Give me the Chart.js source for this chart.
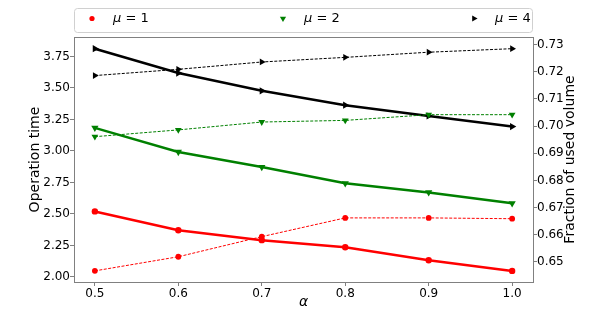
<!DOCTYPE html>
<html>
<head>
<meta charset="utf-8">
<script src="https://cdn.jsdelivr.net/npm/chart.js@4"></script>
<style>
  html, body { margin: 0; padding: 0; background: #fff; }
  #wrap { width: 593px; height: 317px; }
</style>
</head>
<body>
<div id="wrap"><canvas id="chart" width="593" height="317"></canvas></div>
<script>
const alpha = [0.5, 0.6, 0.7, 0.8, 0.9, 1.0]

// operation time (left axis, solid)
const timeMu1 = [2.520, 2.371, 2.292, 2.236, 2.133, 2.048]
const timeMu2 = [3.183, 2.992, 2.872, 2.743, 2.671, 2.584]
const timeMu4 = [3.811, 3.618, 3.477, 3.363, 3.278, 3.193]

// fraction of used volume (right axis, dashed)
const volMu1 = [0.6467, 0.6519, 0.6593, 0.6662, 0.6662, 0.6659]
const volMu2 = [0.6961, 0.6986, 0.7015, 0.7021, 0.7042, 0.7042]
const volMu4 = [0.7186, 0.7209, 0.7236, 0.7253, 0.7272, 0.7285]

const xTicks = [0.5, 0.6, 0.7, 0.8, 0.9, 1.0]
const leftTicks = [2.00, 2.25, 2.50, 2.75, 3.00, 3.25, 3.50, 3.75]
const rightTicks = [0.65, 0.66, 0.67, 0.68, 0.69, 0.70, 0.71, 0.72, 0.73]

const legendNames = ['1', '2', '4']
const legendColors = ['#ff0000', '#008000', '#000000']
const legendStyles = ['circle', 'triangle', 'triangle']
const legendRot = [0, 180, 90]
const markerSize = [3.2, 4.2, 4.2]

const FONT = "'DejaVu Sans', sans-serif"
const FRAME = '#808080'

function pts(ys) {
    return alpha.map((x, i) => ({x: x, y: ys[i]}))
}

function solid(ys, i) {
    return {
        data: pts(ys), yAxisID: 'y', order: 2,
        borderColor: legendColors[i], backgroundColor: legendColors[i],
        borderWidth: 2.5, pointStyle: legendStyles[i], rotation: legendRot[i],
        pointRadius: markerSize[i], pointBorderWidth: 0
    }
}

function dashed(ys, i) {
    return {
        data: pts(ys), yAxisID: 'y1', order: 1,
        borderColor: legendColors[i], backgroundColor: legendColors[i],
        borderWidth: 1, borderDash: [3, 1.5], pointStyle: legendStyles[i], rotation: legendRot[i],
        pointRadius: markerSize[i] - 0.3, pointBorderWidth: 0
    }
}

const framePlugin = {
    id: 'frame',
    afterDraw(chart) {
        const ctx = chart.ctx
        const a = chart.chartArea
        ctx.save()
        ctx.strokeStyle = FRAME
        ctx.lineWidth = 1
        ctx.beginPath()
        ctx.moveTo(a.left, a.top + 0.5)
        ctx.lineTo(a.right, a.top + 0.5)
        ctx.stroke()

        // right axis title, reads bottom to top like the left one
        ctx.save()
        ctx.translate(570, (a.top + a.bottom) / 2)
        ctx.rotate(-Math.PI / 2)
        ctx.fillStyle = '#000'
        ctx.font = '14px ' + FONT
        ctx.textAlign = 'center'
        ctx.textBaseline = 'middle'
        ctx.fillText('Fraction of used volume', 0, 0)
        ctx.restore()

        // legend box
        const bx = a.left, by = 8, bw = a.right - a.left, bh = 24
        ctx.strokeStyle = '#d0d0d0'
        ctx.fillStyle = 'rgba(255,255,255,0.8)'
        ctx.beginPath()
        ctx.roundRect(bx + 0.5, by + 0.5, bw - 1, bh, 3)
        ctx.fill()
        ctx.stroke()

        const markerX = [bx + 18, bx + 209, bx + 400]
        const cy = by + 10.5
        legendNames.forEach((n, i) => {
            ctx.fillStyle = legendColors[i]
            Chart.helpers.drawPoint(ctx, {pointStyle: legendStyles[i], rotation: legendRot[i],
                radius: markerSize[i] - 0.6, borderWidth: 0}, markerX[i], cy)
            ctx.fillStyle = '#000'
            ctx.textAlign = 'left'
            ctx.textBaseline = 'middle'
            ctx.font = 'italic 13px ' + FONT
            let tx = markerX[i] + 21
            ctx.fillText('\u03bc', tx, cy)
            tx += ctx.measureText('\u03bc').width
            ctx.font = '13px ' + FONT
            ctx.fillText(' = ' + n, tx, cy)
        })
        ctx.restore()
    }
}

new Chart(document.getElementById('chart'), {
    type: 'line',
    data: {
        datasets: [
            solid(timeMu1, 0), solid(timeMu2, 1), solid(timeMu4, 2),
            dashed(volMu1, 0), dashed(volMu2, 1), dashed(volMu4, 2)
        ]
    },
    options: {
        responsive: false,
        animation: false,
        layout: {padding: {top: 37, left: 0, right: 0, bottom: 0}},
        plugins: {legend: {display: false}, tooltip: {enabled: false}},
        scales: {
            x: {
                type: 'linear', min: 0.475, max: 1.025,
                afterBuildTicks: s => { s.ticks = xTicks.map(v => ({value: v})) },
                afterFit: s => { s.height = 35 },
                ticks: {font: {family: FONT, size: 12}, color: '#000', padding: 1,
                    callback: v => v.toFixed(1), maxRotation: 0, autoSkip: false},
                grid: {drawOnChartArea: false, drawTicks: true, tickLength: 4, color: FRAME},
                border: {display: true, color: FRAME},
                title: {display: true, text: '\u03b1', color: '#000',
                    font: {family: FONT, size: 14, style: 'italic'}, padding: {top: 0, bottom: 6}}
            },
            y: {
                position: 'left', min: 1.96, max: 3.904,
                afterBuildTicks: s => { s.ticks = leftTicks.map(v => ({value: v})) },
                afterFit: s => { s.width = 74 },
                ticks: {font: {family: FONT, size: 12}, color: '#000', padding: 0,
                    callback: v => v.toFixed(2), autoSkip: false},
                grid: {drawOnChartArea: false, drawTicks: true, tickLength: 4, color: FRAME},
                border: {display: true, color: FRAME},
                title: {display: true, text: 'Operation time', color: '#000',
                    font: {family: FONT, size: 14}, padding: {top: 27, bottom: 0}}
            },
            y1: {
                position: 'right', min: 0.6426, max: 0.7328,
                afterBuildTicks: s => { s.ticks = rightTicks.map(v => ({value: v})) },
                afterFit: s => { s.width = 60 },
                ticks: {font: {family: FONT, size: 12}, color: '#000', padding: 0,
                    callback: v => v.toFixed(2), autoSkip: false},
                grid: {drawOnChartArea: false, drawTicks: true, tickLength: 4, color: FRAME},
                border: {display: true, color: FRAME},
                title: {display: false}
            }
        }
    },
    plugins: [framePlugin]
})
</script>
</body>
</html>
